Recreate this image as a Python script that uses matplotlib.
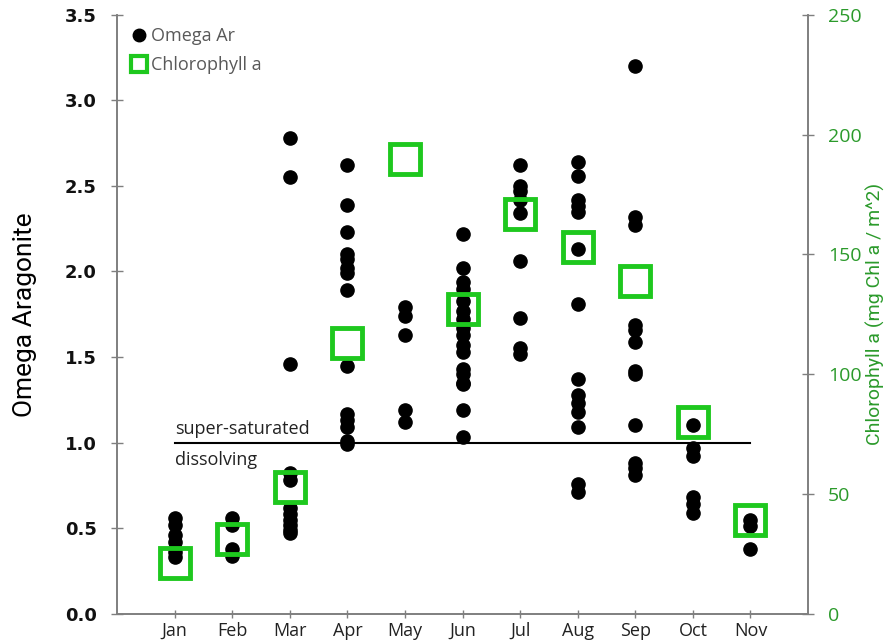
import matplotlib
matplotlib.use("Agg")
import matplotlib.pyplot as plt

months = ["Jan", "Feb", "Mar", "Apr", "May", "Jun", "Jul", "Aug", "Sep", "Oct", "Nov"]

# Omega aragonite samples per month
omega = {
    "Jan": [0.56, 0.52, 0.46, 0.42, 0.36, 0.33],
    "Feb": [0.56, 0.52, 0.38, 0.34],
    "Mar": [2.78, 2.55, 1.46, 0.82, 0.78, 0.62, 0.58, 0.55, 0.52, 0.49, 0.47],
    "Apr": [2.62, 2.39, 2.23, 2.10, 2.07, 2.02, 1.99, 1.89, 1.45, 1.17, 1.13, 1.09, 1.01, 0.99],
    "May": [1.79, 1.74, 1.63, 1.19, 1.12],
    "Jun": [2.22, 2.02, 1.94, 1.90, 1.83, 1.77, 1.72, 1.67, 1.63, 1.57, 1.53, 1.43, 1.40,
            1.35, 1.34, 1.19, 1.03],
    "Jul": [2.62, 2.50, 2.47, 2.42, 2.34, 2.06, 1.73, 1.55, 1.52],
    "Aug": [2.64, 2.56, 2.42, 2.38, 2.35, 2.13, 1.81, 1.37, 1.28, 1.23, 1.18, 1.09, 0.76, 0.71],
    "Sep": [3.20, 2.32, 2.27, 1.69, 1.66, 1.59, 1.42, 1.40, 1.10, 0.88, 0.85, 0.81],
    "Oct": [1.10, 0.97, 0.92, 0.68, 0.64, 0.59],
    "Nov": [0.55, 0.51, 0.38],
}

# monthly chlorophyll a (mg Chl a / m^2)
chl = [21, 31, 53, 113, 190, 127, 167, 153, 139, 80, 39]

threshold = 1.0

fig = plt.figure(figsize=(8.87, 6.42), dpi=100)
ax = fig.add_axes([0.132, 0.044, 0.779, 0.933])
ax2 = ax.twinx()

xs, ys = [], []
for i, m in enumerate(months):
    for v in omega[m]:
        xs.append(i + 1)
        ys.append(v)

ax.plot([1, len(months)], [threshold, threshold], color="black", lw=1.5, zorder=1)
ax.plot(xs, ys, "o", color="black", ms=9.5, zorder=3, label="Omega Ar")
ax2.plot(range(1, len(months) + 1), chl, "s", ms=21, mfc="none", mec="#1ec81e",
         mew=3.5, zorder=4, label="Chlorophyll a")

ax.text(1, threshold + 0.08, "super-saturated", fontsize=13, color="#222222", va="center",
        family="Open Sans")
ax.text(1, threshold - 0.1, "dissolving", fontsize=13, color="#222222", va="center",
        family="Open Sans")

ax.set_xlim(0, 12)
ax.set_ylim(0, 3.5)
ax2.set_ylim(0, 250)
ax.set_xticks(range(1, len(months) + 1))
ax.set_xticklabels(months, fontsize=13, color="#222222", family="Open Sans")
ax.set_yticks([0, 0.5, 1, 1.5, 2, 2.5, 3, 3.5])
ax.set_yticklabels(["%.1f" % t for t in ax.get_yticks()], fontsize=13,
                   fontweight="bold", color="#111111")
ax2.set_yticks([0, 50, 100, 150, 200, 250])
ax2.set_yticklabels(["0", "50", "100", "150", "200", "250"], fontsize=14, color="#2b9a2b",
                    family="Open Sans")

for a in (ax, ax2):
    a.spines["top"].set_visible(False)
    for s in ("left", "right", "bottom"):
        a.spines[s].set_color("#7f7f7f")
        a.spines[s].set_linewidth(1.2)
ax.tick_params(axis="y", direction="inout", length=9, width=1, color="#7f7f7f", pad=10)
ax.tick_params(axis="x", direction="inout", length=6, width=1, color="#7f7f7f", pad=3)
ax2.tick_params(axis="y", direction="inout", length=9, width=1, color="#7f7f7f", pad=10)

ax.set_ylabel("Omega Aragonite", fontsize=19, family="Roboto", labelpad=20)
ax2.set_ylabel("Chlorophyll a (mg Chl a / m^2)", fontsize=14, color="#2b9a2b",
               family="Roboto", va="center", ha="center")
ax2.yaxis.set_label_coords(1.097, 0.5)

h1, l1 = ax.get_legend_handles_labels()
h2, l2 = ax2.get_legend_handles_labels()
leg = ax.legend(h1 + h2, l1 + l2, loc="upper left", bbox_to_anchor=(0.0, 1.0),
                frameon=False, handletextpad=0.2, labelspacing=0.6, borderaxespad=0.3,
                handlelength=1.0, prop={"family": "Open Sans", "size": 13})
leg.legend_handles[0].set_markersize(9)
leg.legend_handles[1].set_markersize(11)
leg.legend_handles[1].set_markeredgewidth(3)
for t in leg.get_texts():
    t.set_color("#595959")

fig.savefig("out.png", dpi=100)
